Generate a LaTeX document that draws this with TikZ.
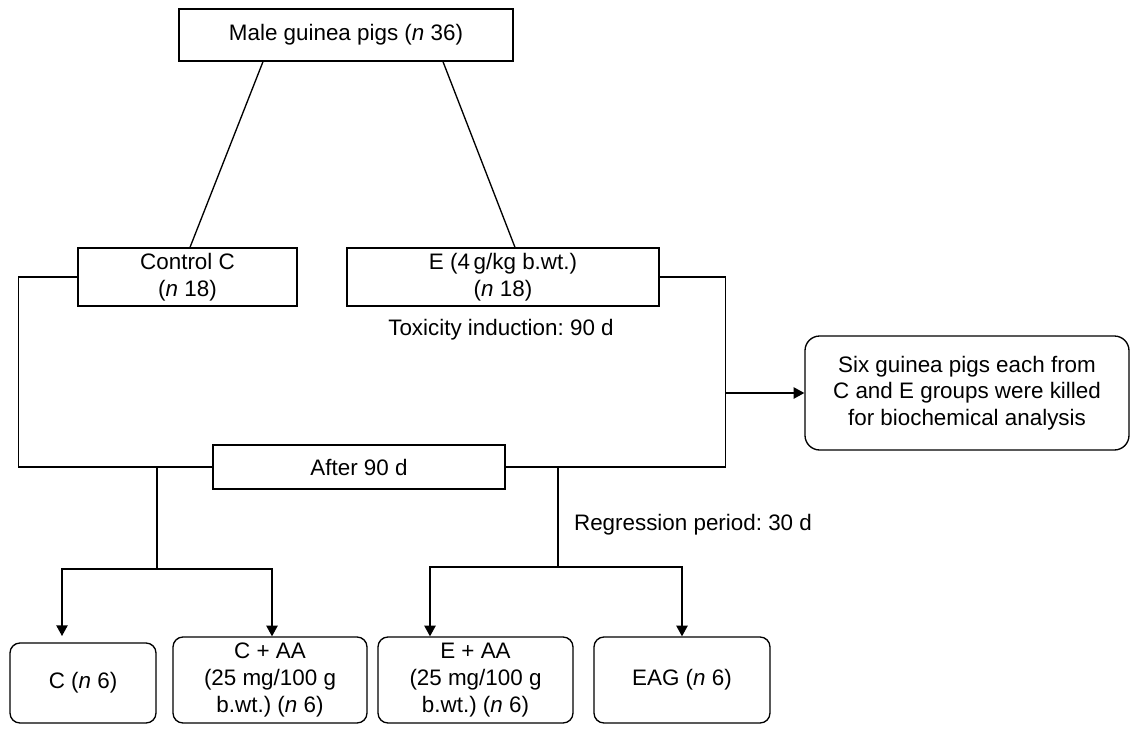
\documentclass[tikz,border=0pt]{standalone}
\usepackage{fontspec}
\setmainfont{Liberation Sans}
\usetikzlibrary{arrows.meta,calc}
\frenchspacing
\begin{document}
\begin{tikzpicture}[x=0.75pt,y=-0.75pt,
  every node/.style={font=\fontsize{16.8}{20}\selectfont, inner sep=0pt, align=center},
  sqbox/.style={draw, line width=1pt, rectangle},
  rbox/.style={draw, line width=1pt, rectangle, rounded corners=7.5pt},
  conn/.style={line width=1pt},
  arr/.style={line width=1pt, -{Triangle[length=8pt,width=8.5pt]}}]
\useasboundingbox (0,0) rectangle (1136,732);

% boxes
\node[sqbox, minimum width=334*0.75pt, minimum height=52*0.75pt] (top) at (346,35) {Male guinea pigs (\textit{n} 36)};
\node[sqbox, minimum width=219*0.75pt, minimum height=58*0.75pt] (ctrl) at (187.5,277) {Control C\\(\textit{n} 18)};
\node[sqbox, minimum width=312*0.75pt, minimum height=58*0.75pt] (E) at (503,277) {E (4\,g/kg b.wt.)\\(\textit{n} 18)};
\node[sqbox, minimum width=292*0.75pt, minimum height=44*0.75pt] (after) at (359,467) {After 90 d};
\node[rbox, rounded corners=11pt, minimum width=324*0.75pt, minimum height=114*0.75pt] (kill) at (967,393) {Six guinea pigs each from\\C and E groups were killed\\for biochemical analysis};
\node[rbox, minimum width=146*0.75pt, minimum height=80*0.75pt] (c6) at (83,683) {C (\textit{n} 6)};
\node[rbox, minimum width=194*0.75pt, minimum height=86*0.75pt] (caa) at (270,680) {C + AA\\(25 mg/100 g\\b.wt.) (\textit{n} 6)};
\node[rbox, minimum width=195*0.75pt, minimum height=86*0.75pt] (eaa) at (475.5,680) {E + AA\\(25 mg/100 g\\b.wt.) (\textit{n} 6)};
\node[rbox, minimum width=176*0.75pt, minimum height=86*0.75pt] (eag) at (682,680) {EAG (\textit{n} 6)};

% labels
\node (tox) at (501,330) {Toxicity induction: 90 d};
\node (reg) at (693,525) {Regression period: 30 d};

% junction coordinates
\coordinate (j1) at (725,393);
\coordinate (lb) at (157,467);
\coordinate (lh) at (157,569);
\coordinate (rb) at (558,467);
\coordinate (rh) at (558,567);
\coordinate (a1) at (62,636);

% connectors
\draw[conn] ($(top.south)+(-83,0)$) -- ($(ctrl.north)+(2.5,0)$);
\draw[conn] ($(top.south)+(97,0)$) -- ($(E.north)+(12,0)$);
\draw[conn] (ctrl.west) -- ++(-59,0) |- (after.west);
\draw[conn] (E.east) -- ++(66,0) |- (after.east);
\draw[arr] (j1) -- (j1 -| kill.west);
\draw[conn] (lb) -- (lh);
\draw[arr] (lh) -| (a1);
\draw[arr] (lh) -| ($(caa.north)+(2,0)$);
\draw[conn] (rb) -- (rh);
\draw[arr] (rh) -| ($(eaa.north)+(-45.5,0)$);
\draw[arr] (rh) -| (eag.north);
\end{tikzpicture}
\end{document}
